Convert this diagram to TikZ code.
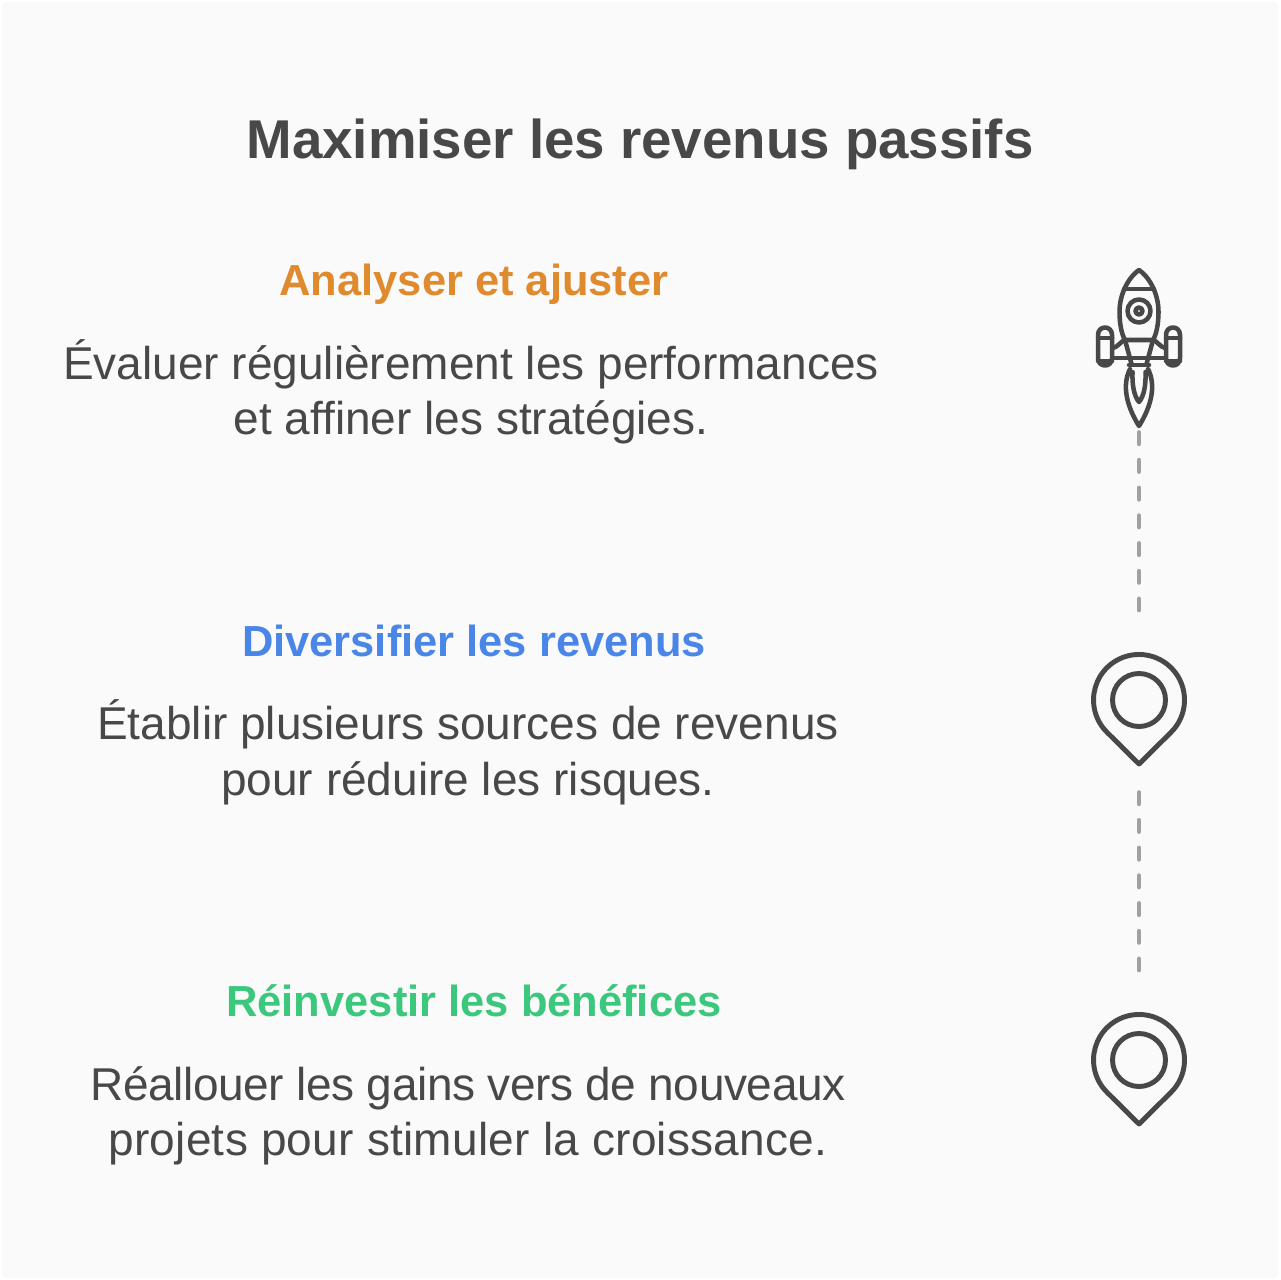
\documentclass[tikz,border=0pt]{standalone}
\usepackage{fontspec}
\setmainfont{Liberation Sans}
\definecolor{bgc}{HTML}{FAFAFA}
\definecolor{ink}{HTML}{484848}
\definecolor{dashc}{HTML}{A0A0A0}
\definecolor{orangec}{HTML}{E08A2E}
\definecolor{bluec}{HTML}{4A86E8}
\definecolor{greenc}{HTML}{3CC87C}
\newfontfamily\tightfont[LetterSpace=-0.87]{Liberation Sans}
\newfontfamily\loosefont[LetterSpace=0.6]{Liberation Sans}
\tikzset{
 x=0.75pt,y=-0.75pt,
 titlenode/.style={text=ink,font=\fontsize{41}{48}\selectfont\bfseries,anchor=center,inner sep=0pt},
 headnode/.style={font=\fontsize{32.6}{38}\selectfont\bfseries,anchor=center,inner sep=0pt},
 bodynode/.style={text=ink,font=\fontsize{34.5}{41.6}\selectfont,anchor=center,inner sep=0pt,align=center},
 iconline/.style={draw=ink,line width=3.7pt,line join=round,line cap=round},
 thinicon/.style={draw=ink,line width=3.4pt,line join=round,line cap=round},
 dashline/.style={draw=dashc,line width=3.5pt,line cap=round,dash pattern=on 8.5pt off 12.3pt},
}
\begin{document}
\begin{tikzpicture}
\useasboundingbox (0,0) rectangle (1280,1280);
\fill[white] (0,0) rectangle (1280,1280);
\fill[bgc,rounded corners=3pt] (2,2) rectangle (1278,1278);
\node[titlenode] (title) at (640,144.5) {Maximiser les revenus passifs};
\node[headnode,text=orangec] (h1) at (474,284) {Analyser et ajuster};
\node[bodynode] (b1) at (471,392) {Évaluer régulièrement les performances\\et affiner les stratégies.};
\node[headnode,text=bluec] (h2) at (474,641) {Diversifier les revenus};
\node[bodynode] (b2) at (468,752.5) {Établir plusieurs sources de revenus\\pour réduire les risques.};
\node[headnode,text=greenc] (h3) at (474,1001) {Réinvestir les bénéfices};
\node[bodynode] (b3) at (468,1116) {{\tightfont Réallouer les gains vers de nouveaux}\\{\loosefont projets pour stimuler la croissance.}};
% rocket
\draw[thinicon] (1139,270) .. controls (1130,276) and (1119.5,292) .. (1119.5,312) .. controls (1119.5,325) and (1122,335) .. (1125,340) -- (1153,340) .. controls (1156,335) and (1158.5,325) .. (1158.5,312) .. controls (1158.5,292) and (1148,276) .. (1139,270) -- cycle;
\draw[thinicon] (1124,289) -- (1154,289);
\draw[thinicon] (1139,311) circle (11.5);
\draw[thinicon] (1139,311) circle (3.5);
\draw[thinicon] (1125,340) -- (1131.5,364) (1153,340) -- (1146.5,364);
\draw[thinicon] (1113,358) -- (1165,358);
\draw[thinicon] (1098,335) .. controls (1098,325) and (1112,325) .. (1112,335) -- (1112,358) .. controls (1112,368) and (1098,368) .. (1098,358) -- cycle;
\draw[thinicon] (1166,335) .. controls (1166,325) and (1180,325) .. (1180,335) -- (1180,358) .. controls (1180,368) and (1166,368) .. (1166,358) -- cycle;
\draw[thinicon] (1098,338) -- (1112,338) (1098,361) -- (1112,361) (1166,338) -- (1180,338) (1166,361) -- (1180,361);
\draw[thinicon] (1113,348) .. controls (1118,347) and (1121,341) .. (1125,340);
\draw[thinicon] (1165,348) .. controls (1160,347) and (1157,341) .. (1153,340);
\draw[thinicon] (1129,365) -- (1149,365);
\draw[thinicon] (1130,369) .. controls (1122,385) and (1126,405) .. (1139,426) .. controls (1152,405) and (1156,385) .. (1148,369);
\draw[thinicon] (1132.5,372) .. controls (1132,385) and (1134,396) .. (1139,402) .. controls (1144,396) and (1146,385) .. (1145.5,372);
% pins
\coordinate (pinA) at (1139,700);
\coordinate (pinB) at (1139,1060);
\foreach \p in {pinA,pinB}{
 \begin{scope}[shift={(\p)}]
 \draw[iconline] (0,64) -- (31.5,32.8) arc[start angle=46.2,end angle=-226.2,radius=45.5] -- cycle;
 \draw[iconline] (0,0) circle (26.5);
 \end{scope}
}
% dashes
\coordinate (d1a) at (1139,432.5);
\coordinate (d1b) at (1139,610);
\coordinate (d2a) at (1139,792.5);
\coordinate (d2b) at (1139,970);
\draw[dashline] (d1a) -- (d1b);
\draw[dashline] (d2a) -- (d2b);
\end{tikzpicture}
\end{document}
